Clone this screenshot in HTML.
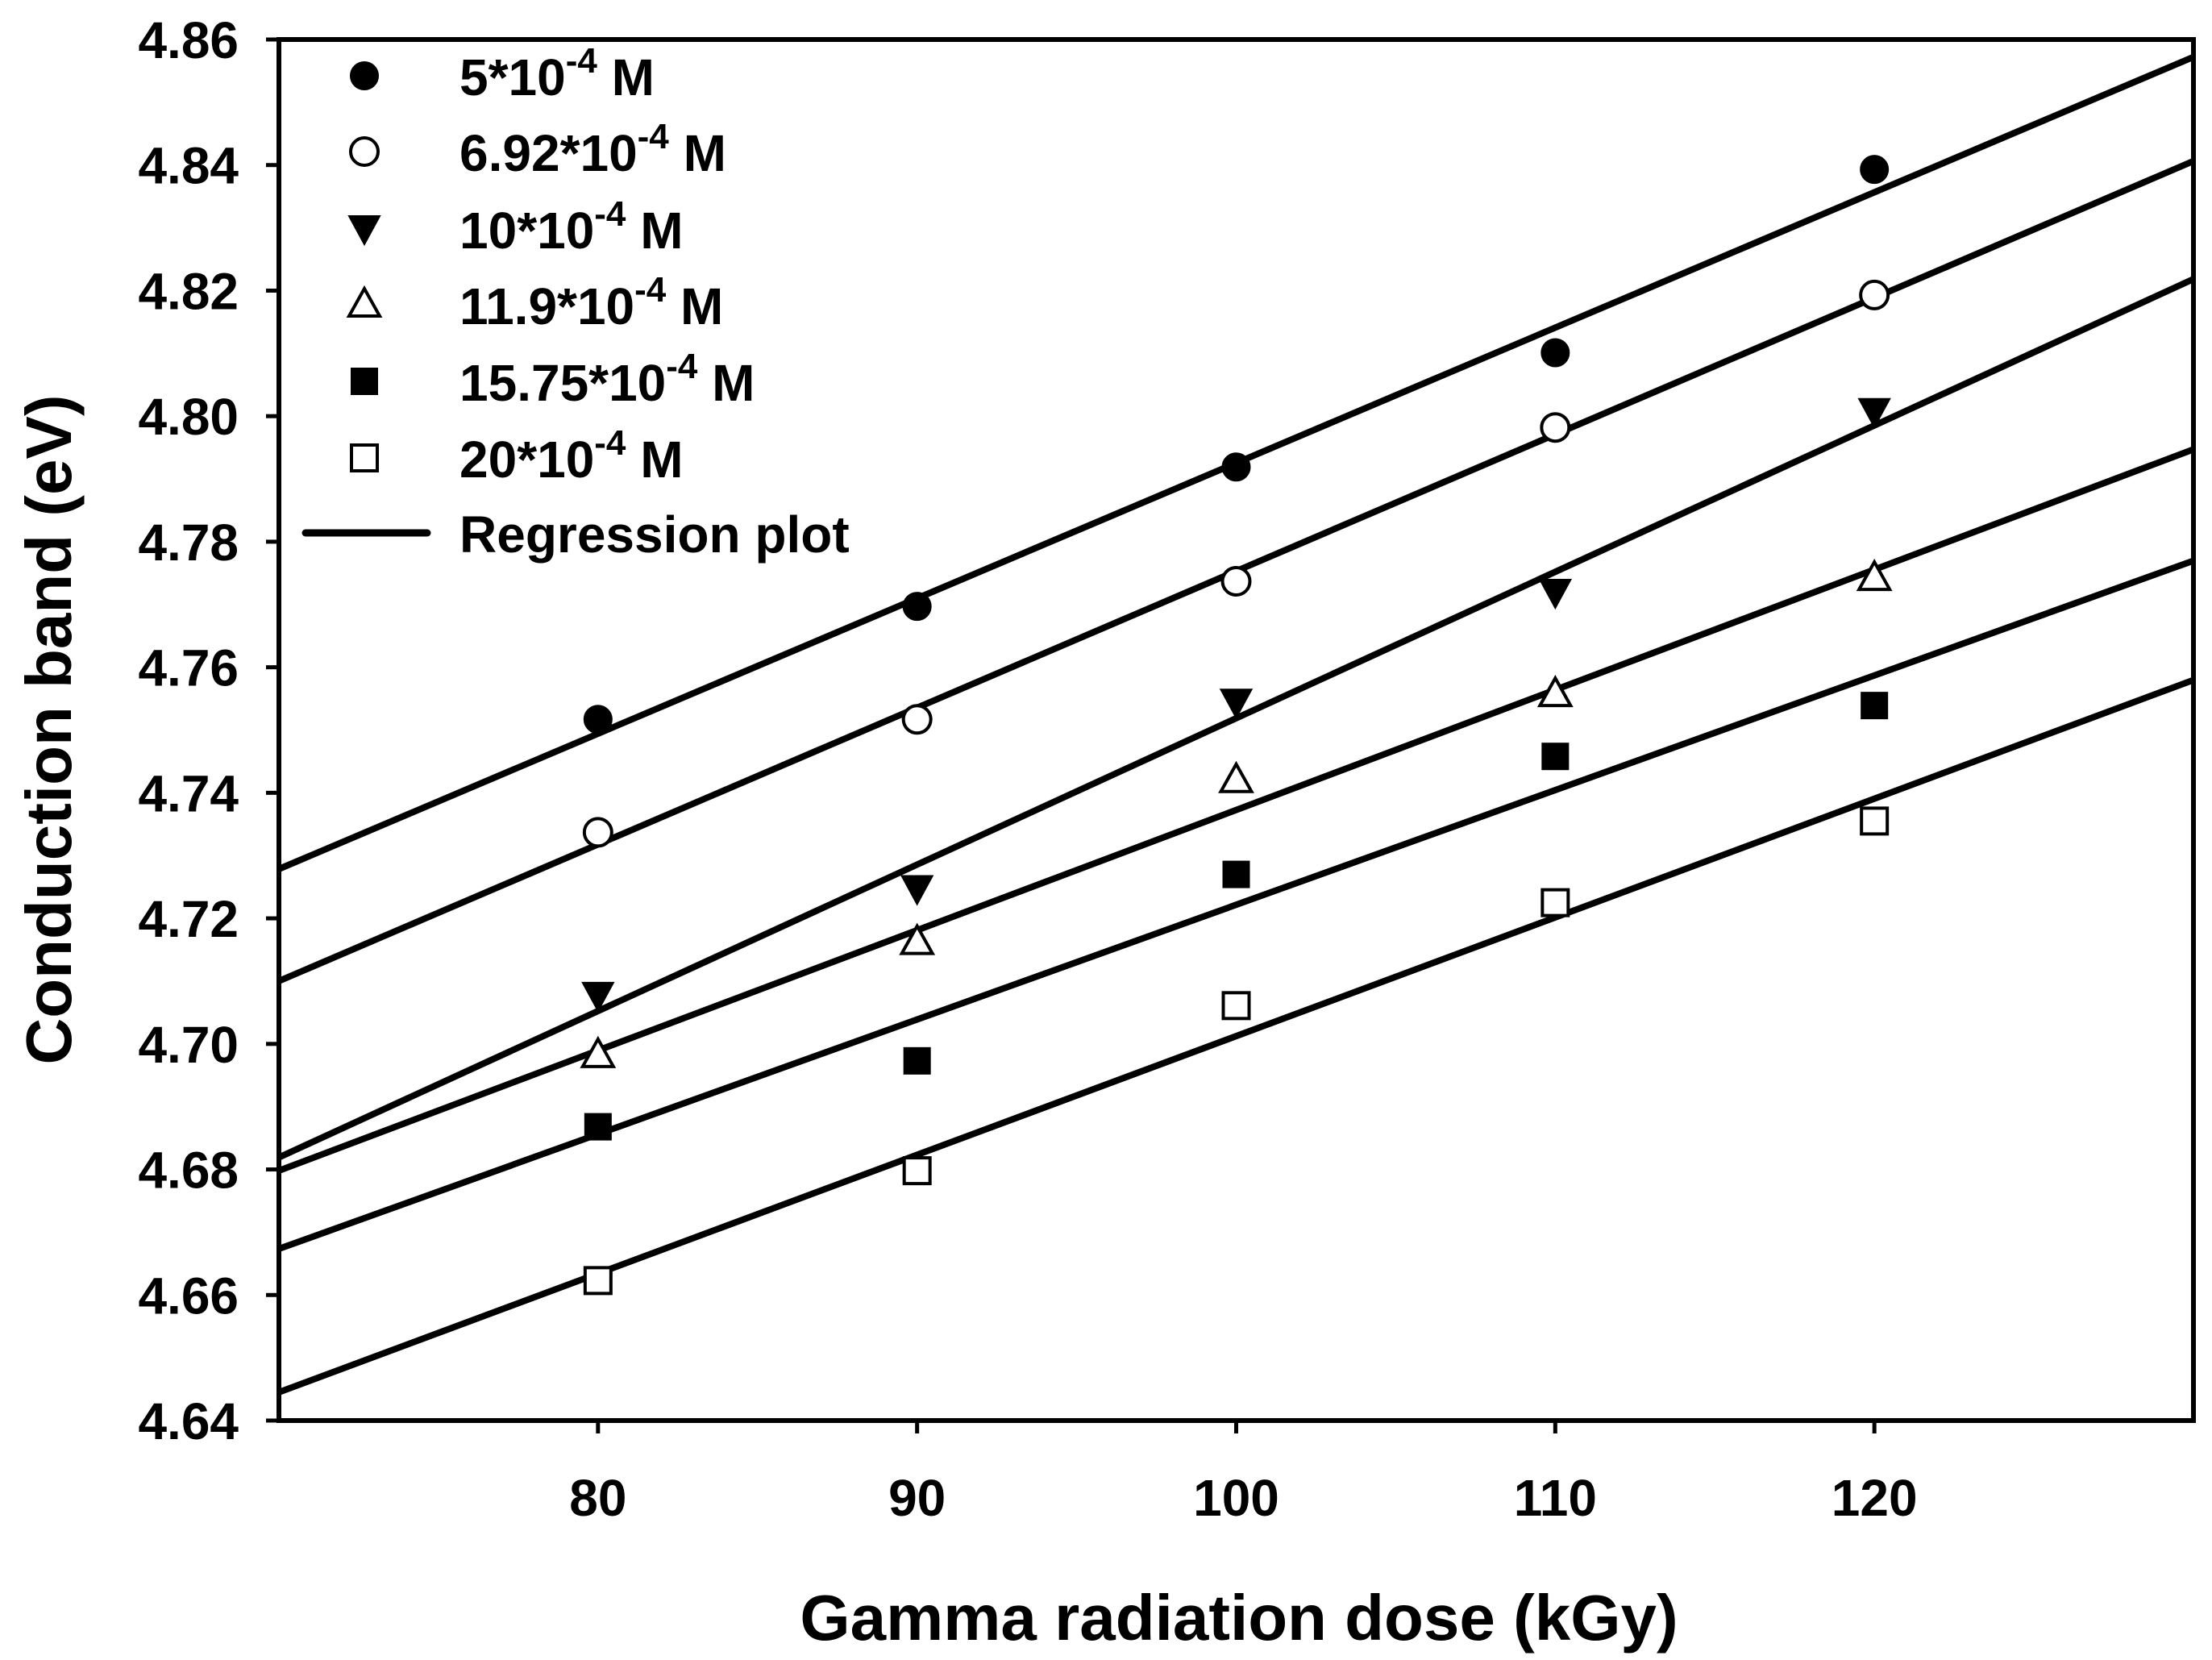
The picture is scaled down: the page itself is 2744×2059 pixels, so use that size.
<!DOCTYPE html>
<html><head><meta charset="utf-8"><style>
html,body{margin:0;padding:0;background:#fff;}
svg{display:block;font-family:"Liberation Sans",Arial,sans-serif;font-weight:bold;}
</style></head><body>
<svg id="chart" width="2744" height="2059" viewBox="0 0 2744 2059">
<g id="plot"></g>
</svg>
<script>
const xValues = [80, 90, 100, 110, 120];
const seriesNames = ["5*10", "6.92*10", "10*10", "11.9*10", "15.75*10", "20*10"];
const s1 = [4.7517, 4.7697, 4.7919, 4.8101, 4.8393];
const s2 = [4.7337, 4.7517, 4.7737, 4.7982, 4.8193];
const s3 = [4.7077, 4.7247, 4.7544, 4.7719, 4.8007];
const s4 = [4.6982, 4.7162, 4.7420, 4.7557, 4.7742];
const s5 = [4.6868, 4.6973, 4.7270, 4.7458, 4.7539];
const s6 = [4.6623, 4.6798, 4.7061, 4.7225, 4.7355];
const yTicks = ["4.64","4.66","4.68","4.70","4.72","4.74","4.76","4.78","4.80","4.82","4.84","4.86"];
const xTicks = ["80","90","100","110","120"];
const markerTypes = ["circleF","circleO","triDownF","triUpO","squareF","squareO"];

const NS = "http://www.w3.org/2000/svg";
const L = 346, R = 2721, T = 49, B = 1762;
const xMin = 70, xMax = 130, yMin = 4.64, yMax = 4.86;
const sx = v => L + (v - xMin) / (xMax - xMin) * (R - L);
const sy = v => B - (v - yMin) / (yMax - yMin) * (B - T);
const svg = document.getElementById('chart');
const g = document.getElementById('plot');
function mk(tag, attrs, parent) {
  const e = document.createElementNS(NS, tag);
  for (const k in attrs) e.setAttribute(k, attrs[k]);
  (parent || g).appendChild(e);
  return e;
}
const defs = mk('defs', {}, svg);
const cp = mk('clipPath', {id: 'clip'}, defs);
mk('rect', {x: L, y: T, width: R - L, height: B - T}, cp);

const allSeries = [s1, s2, s3, s4, s5, s6];
allSeries.forEach((s, i) => {
  const n = s.length;
  const mx = xValues.reduce((a, b) => a + b, 0) / n;
  const my = s.reduce((a, b) => a + b, 0) / n;
  let num = 0, den = 0;
  for (let j = 0; j < n; j++) { num += (xValues[j] - mx) * (s[j] - my); den += (xValues[j] - mx) ** 2; }
  const slope = num / den, ic = my - slope * mx;
  const ln = mk('line', {x1: sx(xMin), y1: sy(ic + slope * xMin), x2: sx(xMax), y2: sy(ic + slope * xMax), stroke: '#000', 'stroke-width': 8, 'clip-path': 'url(#clip)'});
  
  
});

function marker(type, cx, cy, parent) {
  const r = 17;
  let e;
  if (type.startsWith('circle')) e = mk('circle', {cx, cy, r}, parent);
  else if (type.startsWith('square')) e = mk('rect', {x: cx - 16, y: cy - 16, width: 32, height: 32}, parent);
  else if (type === 'triDownF') e = mk('polygon', {points: `${cx-19},${cy-16} ${cx+19},${cy-16} ${cx},${cy+19}`}, parent);
  else e = mk('polygon', {points: `${cx-19},${cy+14} ${cx+19},${cy+14} ${cx},${cy-20}`}, parent);
  const filled = type.endsWith('F');
  e.setAttribute('fill', filled ? '#000' : '#fff');
  e.setAttribute('stroke', '#000');
  e.setAttribute('stroke-width', filled ? 2 : 4);
  return e;
}
allSeries.forEach((s, i) => {
  s.forEach((v, j) => {
    const m = marker(markerTypes[i], sx(xValues[j]), sy(v));
    
    
  });
});

const fr = mk('rect', {x: L, y: T, width: R - L, height: B - T, fill: 'none', stroke: '#000', 'stroke-width': 6});



yTicks.forEach(t => {
  const y = sy(parseFloat(t));
  mk('line', {x1: L - 16, y1: y, x2: L, y2: y, stroke: '#000', 'stroke-width': 5});
  const tx = mk('text', {x: 296, y: y + 23, 'text-anchor': 'end', 'font-size': 64});
  tx.textContent = t;
  
  
});
xTicks.forEach(t => {
  const x = sx(parseFloat(t));
  mk('line', {x1: x, y1: B, x2: x, y2: B + 16, stroke: '#000', 'stroke-width': 5});
  const tx = mk('text', {x: x, y: 1880, 'text-anchor': 'middle', 'font-size': 64});
  tx.textContent = t;
  
  
});

const xt = mk('text', {x: 1537, y: 2034, 'text-anchor': 'middle', 'font-size': 80});
xt.textContent = 'Gamma radiation dose (kGy)';


const yt = mk('text', {x: 0, y: 0, 'text-anchor': 'middle', 'font-size': 80, transform: 'translate(88,905) rotate(-90)'});
yt.textContent = 'Conduction band (eV)';



const legY = [94, 188, 284, 378, 473, 568];
seriesNames.forEach((nm, i) => {
  const lg = mk('g', {});
  
  
  marker(markerTypes[i], 452, legY[i], lg);
  const tx = mk('text', {x: 570, y: legY[i] + 24, 'font-size': 64}, lg);
  tx.appendChild(document.createTextNode(nm));
  const sup = document.createElementNS(NS, 'tspan');
  sup.setAttribute('dy', -28); sup.setAttribute('font-size', 44);
  sup.textContent = '-4';
  tx.appendChild(sup);
  const rest = document.createElementNS(NS, 'tspan');
  rest.setAttribute('dy', 28);
  rest.textContent = ' M';
  tx.appendChild(rest);
});
const rg = mk('g', {});


mk('line', {x1: 379, y1: 661, x2: 530, y2: 661, stroke: '#000', 'stroke-width': 9, 'stroke-linecap': 'round'}, rg);
const rt = mk('text', {x: 570, y: 685, 'font-size': 64}, rg);
rt.textContent = 'Regression plot';
</script>
</body></html>
